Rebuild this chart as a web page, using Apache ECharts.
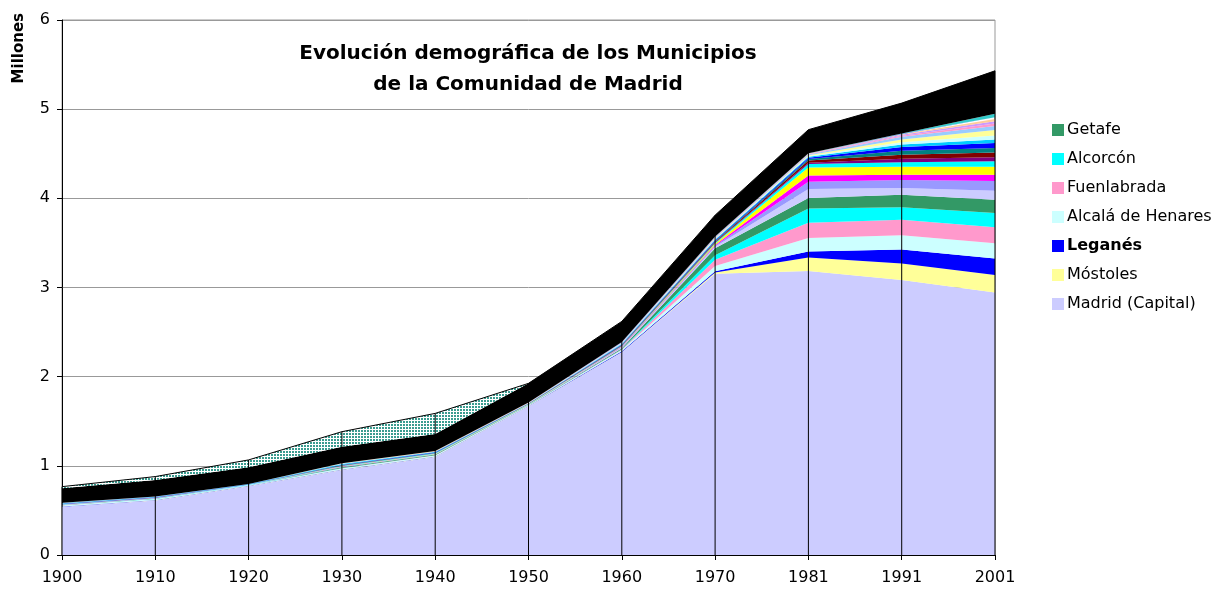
<!DOCTYPE html>
<html>
<head>
<meta charset="utf-8">
<script src="https://cdn.jsdelivr.net/npm/echarts@6/dist/echarts.min.js"></script>
<style>html,body{margin:0;padding:0;background:#fff}#chart{width:1218px;height:592px}</style>
</head>
<body>
<div id="chart"></div>
<script>
// ---------- DATA (millions of inhabitants) ----------
const years = ['1900','1910','1920','1930','1940','1950','1960','1970','1981','1991','2001'];
const yTicks = [0,1,2,3,4,5,6];

const madrid      = [0.540,0.612,0.772,0.952,1.098,1.665,2.275,3.155,3.185,3.085,2.945];
const mostoles    = [0.002,0.002,0.002,0.003,0.003,0.003,0.003,0.012,0.152,0.185,0.195];
const leganes     = [0.003,0.003,0.003,0.004,0.004,0.004,0.007,0.014,0.068,0.155,0.185];
const alcala      = [0.010,0.010,0.005,0.012,0.010,0.005,0.015,0.060,0.150,0.160,0.170];
const fuenlabrada = [0.002,0.002,0.001,0.003,0.003,0.002,0.004,0.070,0.170,0.175,0.180];
const alcorcon    = [0.001,0.001,0.001,0.002,0.002,0.002,0.004,0.050,0.160,0.140,0.160];
const getafe      = [0.004,0.004,0.002,0.008,0.007,0.004,0.012,0.080,0.120,0.140,0.150];

// other municipalities (not named in the legend)
const otro01 = [0.002,0.002,0.001,0.004,0.003,0.002,0.006,0.015,0.100,0.075,0.100];
const otro02 = [0.001,0.001,0.0005,0.002,0.002,0.001,0.005,0.012,0.080,0.090,0.110];
const otro03 = [0.001,0.001,0.0005,0.003,0.002,0.001,0.004,0.010,0.070,0.060,0.070];
const otro04 = [0.001,0.001,0.0005,0.002,0.002,0.001,0.004,0.012,0.090,0.090,0.090];
const otro05 = [0.003,0.003,0.002,0.006,0.005,0.003,0.006,0.010,0.040,0.050,0.060];
const otro06 = [0.001,0.001,0.0005,0.003,0.002,0.001,0.003,0.006,0.015,0.040,0.045];
const otro07 = [0.001,0.001,0.0005,0.002,0.002,0.001,0.004,0.008,0.025,0.045,0.055];
const otro08 = [0.001,0.001,0.0005,0.002,0.002,0.001,0.004,0.007,0.015,0.045,0.050];
const otro09 = [0.003,0.003,0.001,0.005,0.004,0.003,0.006,0.008,0.015,0.040,0.055];
const otro10 = [0.004,0.004,0.002,0.007,0.006,0.004,0.008,0.010,0.010,0.030,0.040];
const otro11 = [0.001,0.001,0.0005,0.002,0.002,0.001,0.003,0.006,0.010,0.025,0.045];
const otro12 = [0.001,0.0005,0.0003,0.001,0.001,0.001,0.003,0.005,0.008,0.030,0.060];
const otro13 = [0.001,0.0005,0.0003,0.002,0.002,0.001,0.004,0.006,0.008,0.030,0.045];
const otro14 = [0.0005,0.0005,0.0003,0.001,0.001,0.001,0.003,0.004,0.005,0.012,0.030];
const otro15 = [0.0005,0.0005,0.0003,0.001,0.001,0.001,0.002,0.003,0.004,0.010,0.025];
const otro16 = [0.0005,0.0005,0.0003,0.001,0.001,0.001,0.002,0.003,0.003,0.008,0.025];
const otro17 = [0.0005,0.0005,0.0003,0.001,0.0005,0.0005,0.001,0.002,0.001,0.005,0.020];
const otro18 = [0.0005,0.0005,0.0003,0.001,0.0005,0.0005,0.002,0.003,0.001,0.003,0.040];

const resto       = [0.163,0.186,0.187,0.185,0.190,0.215,0.230,0.240,0.265,0.340,0.480];
const anexionados = [0.018,0.037,0.082,0.168,0.232,0,0,0,0,0,0];

// ---------- CHART ----------
const FONT = 'DejaVu Sans, Verdana, sans-serif';

const pc = document.createElement('canvas');
pc.width = 3; pc.height = 3;
const pctx = pc.getContext('2d');
pctx.fillStyle = '#ffffff'; pctx.fillRect(0,0,3,3);
pctx.fillStyle = '#3a9c90'; pctx.fillRect(1,1,2,2);

const layers = [
  ['Madrid (Capital)', madrid, '#CCCCFF'],
  ['Móstoles', mostoles, '#FFFF99'],
  ['Leganés', leganes, '#0000FF'],
  ['Alcalá de Henares', alcala, '#CCFFFF'],
  ['Fuenlabrada', fuenlabrada, '#FF99CC'],
  ['Alcorcón', alcorcon, '#00FFFF'],
  ['Getafe', getafe, '#339966'],
  ['otro01', otro01, '#CCCCFF'],
  ['otro02', otro02, '#9999FF'],
  ['otro03', otro03, '#FF00FF'],
  ['otro04', otro04, '#FFFF00'],
  ['otro05', otro05, '#00FFFF'],
  ['otro06', otro06, '#800080'],
  ['otro07', otro07, '#800000'],
  ['otro08', otro08, '#008080'],
  ['otro09', otro09, '#0000FF'],
  ['otro10', otro10, '#00CCFF'],
  ['otro11', otro11, '#CCFFFF'],
  ['otro12', otro12, '#FFFF99'],
  ['otro13', otro13, '#99CCFF'],
  ['otro14', otro14, '#FF99CC'],
  ['otro15', otro15, '#CC99FF'],
  ['otro16', otro16, '#FFCC99'],
  ['otro17', otro17, '#3366FF'],
  ['otro18', otro18, '#33CCCC'],
  ['Resto', resto, '#000000'],
  ['Anexionados', anexionados, {image: pc, repeat: 'repeat'}]
];

const series = layers.map(([name, data, color]) => ({
  name, type: 'line', stack: 'total', data,
  symbol: 'none', showSymbol: false, silent: true,
  color: typeof color === 'string' ? color : '#3a9c90',
  lineStyle: name === 'Anexionados' ? {width: 1, color: '#000'} : {width: 0},
  areaStyle: {opacity: 1, color: color},
  z: 2
}));

const totals = years.map((_, i) => layers.reduce((s, l) => s + l[1][i], 0));
series.push({
  name: 'dropLines', type: 'bar', data: totals, barWidth: 1, silent: true,
  itemStyle: {color: '#000'}, z: 5
});

const chart = echarts.init(document.getElementById('chart'), null, {renderer: 'canvas'});
chart.setOption({
  animation: false,
  backgroundColor: '#fff',
  textStyle: {fontFamily: FONT},
  grid: {left: 62, right: 223, top: 20, bottom: 37, show: true, borderColor: '#999', borderWidth: 1},
  xAxis: {
    type: 'category', data: years, boundaryGap: false,
    axisLine: {lineStyle: {color: '#000', width: 1}},
    axisTick: {show: true, length: 5, lineStyle: {color: '#000'}},
    axisLabel: {color: '#000', fontSize: 16, fontFamily: FONT, margin: 15},
    splitLine: {show: false}
  },
  yAxis: {
    type: 'value', min: yTicks[0], max: yTicks[yTicks.length-1], interval: 1,
    axisLine: {show: true, lineStyle: {color: '#000', width: 1}},
    axisTick: {show: true, length: 5, lineStyle: {color: '#000'}},
    axisLabel: {color: '#000', fontSize: 16, fontFamily: FONT, margin: 12},
    splitLine: {show: true, lineStyle: {color: '#999', width: 1}}
  },
  legend: {
    data: ['Getafe','Alcorcón','Fuenlabrada','Alcalá de Henares','Leganés','Móstoles','Madrid (Capital)'],
    orient: 'vertical', left: 1047, top: 117,
    itemWidth: 12, itemHeight: 12, itemGap: 13, icon: 'rect',
    selectedMode: false,
    formatter: n => n === 'Leganés' ? '{b|' + n + '}' : n,
    textStyle: {color: '#000', fontSize: 16, fontFamily: FONT, padding: [0,0,0,-2],
      rich: {b: {fontWeight: 'bold', fontSize: 16, fontFamily: FONT, color: '#000'}}}
  },
  graphic: [
    {type: 'text', x: 528, y: 54, style: {text: 'Evolución demográfica de los Municipios',
      font: 'bold 20px ' + FONT, fill: '#000', align: 'center', verticalAlign: 'middle'}},
    {type: 'text', x: 528, y: 85, style: {text: 'de la Comunidad de Madrid',
      font: 'bold 20px ' + FONT, fill: '#000', align: 'center', verticalAlign: 'middle'}},
    {type: 'text', x: 19, y: 13, rotation: Math.PI / 2,
      style: {text: 'Millones', font: 'bold 15px ' + FONT, fill: '#000', align: 'right', verticalAlign: 'middle'}}
  ],
  series
});
</script>
</body>
</html>
